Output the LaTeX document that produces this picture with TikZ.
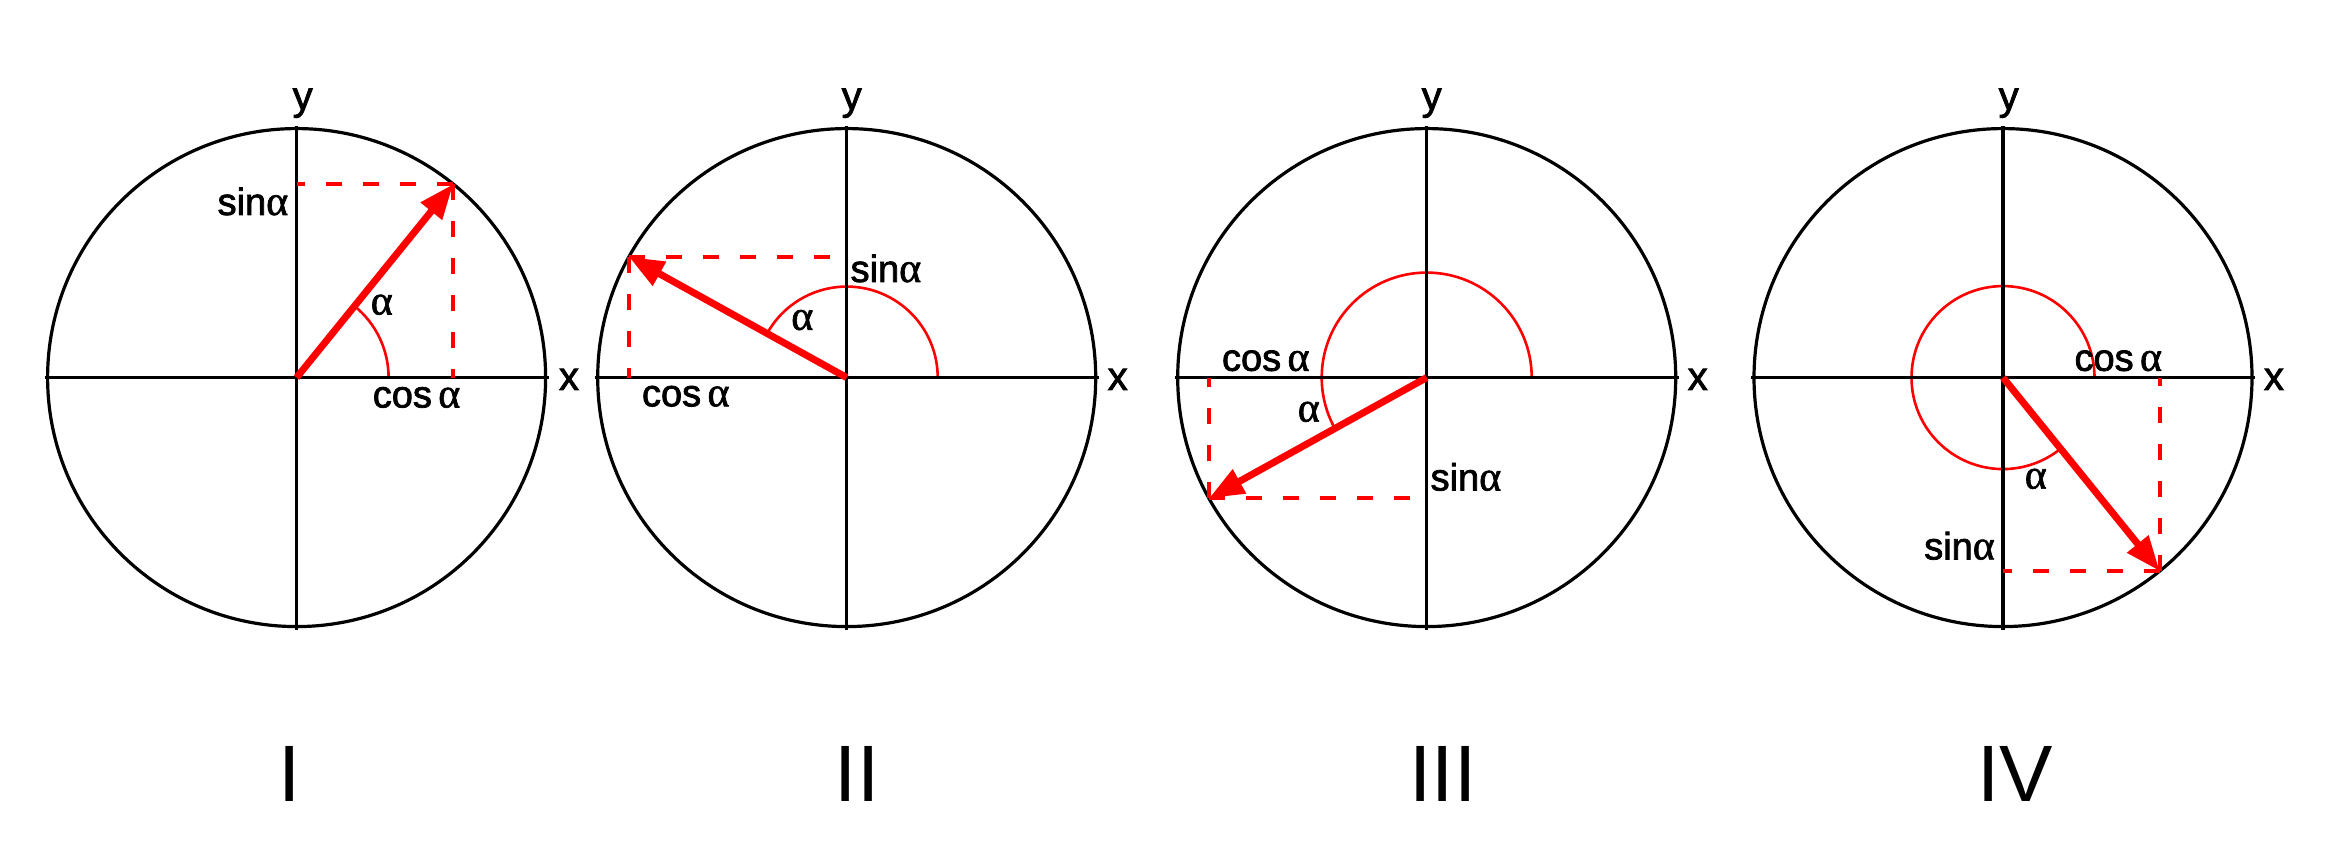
\documentclass[tikz,border=0pt]{standalone}
\usepackage{fontspec}
\setmainfont{Liberation Sans}
\newfontfamily\lblfont[FakeBold=2]{Liberation Sans}
\newfontfamily\grkfont[FakeBold=1.5]{Liberation Serif}
\newcommand{\alp}{{\grkfont\fontsize{10.5}{12}\selectfont α}}
\usetikzlibrary{arrows.meta,calc}
\begin{document}
\begin{tikzpicture}[x=0.25pt,y=0.25pt,
  axisline/.style={black,line width=0.8pt},
  ring/.style={black,line width=0.8pt},
  vec/.style={red,line width=1.75pt,-{Triangle[length=8.75pt,width=6.5pt]}},
  proj/.style={red,line width=1pt,dash pattern=on 4pt off 5.25pt},
  angarc/.style={red,line width=0.65pt},
  lbl/.style={inner sep=0pt,font=\lblfont\fontsize{9.5}{11}\selectfont},
  axlbl/.style={inner sep=0pt,anchor=base,font=\lblfont\fontsize{10}{12}\selectfont},
  num/.style={inner sep=0pt,anchor=base,font=\fontsize{20}{24}\selectfont}]
\useasboundingbox (0,0) rectangle (2343,853);

% ---------- Panel I ----------
\coordinate (O1) at (296.6,475.4);
\coordinate (P1) at ($(O1)+(51:249)$);
\coordinate (W1) at ($(O1)+(-252,0)$);
\coordinate (E1) at ($(O1)+(252,0)$);
\coordinate (S1) at ($(O1)+(0,-252)$);
\coordinate (N1) at ($(O1)+(0,252)$);
\coordinate (A1) at ($(O1)+(92,0)$);
\draw[angarc] (A1) arc[start angle=0,end angle=51,radius=92];
\draw[ring] (O1) circle[radius=249];
\draw[axisline] (W1) -- (E1);
\draw[axisline] (S1) -- (N1);
\draw[proj] (P1) -- (O1 |- P1);
\draw[proj] (P1) -- (P1 |- O1);
\draw[vec] (O1) -- (P1);
\node[axlbl] (y1) at (302.7,743.4) {y};
\node[axlbl] (x1) at (569,463) {x};
\node[lbl,anchor=base east] (s1) at (289,638) {sin\alp};
\node[lbl,anchor=base west] (a1) at (370,538.5) {\alp};
\node[lbl,anchor=base west] (c1) at (372,445.5) {cos\,\alp};
\node[num] (n1) at (290,51) {I};

% ---------- Panel II ----------
\coordinate (O2) at (846.7,475.4);
\coordinate (P2) at ($(O2)+(151:249)$);
\coordinate (W2) at ($(O2)+(-252,0)$);
\coordinate (E2) at ($(O2)+(252,0)$);
\coordinate (S2) at ($(O2)+(0,-252)$);
\coordinate (N2) at ($(O2)+(0,252)$);
\coordinate (A2) at ($(O2)+(91,0)$);
\draw[angarc] (A2) arc[start angle=0,end angle=151,radius=91];
\draw[ring] (O2) circle[radius=249];
\draw[axisline] (W2) -- (E2);
\draw[axisline] (S2) -- (N2);
\draw[proj] (P2) -- (O2 |- P2);
\draw[proj] (P2) -- (P2 |- O2);
\draw[vec] (O2) -- (P2);
\node[axlbl] (y2) at (851.7,743.4) {y};
\node[axlbl] (x2) at (1117.7,463) {x};
\node[lbl,anchor=base west] (s2) at (849.8,571) {sin\alp};
\node[lbl,anchor=base west] (a2) at (790.5,523.2) {\alp};
\node[lbl,anchor=base west] (c2) at (641.2,446.7) {cos\,\alp};
\node[num] (n2) at (857,51) {II};

% ---------- Panel III ----------
\coordinate (O3) at (1426.7,475.4);
\coordinate (P3) at ($(O3)+(209:249)$);
\coordinate (W3) at ($(O3)+(-252,0)$);
\coordinate (E3) at ($(O3)+(252,0)$);
\coordinate (S3) at ($(O3)+(0,-252)$);
\coordinate (N3) at ($(O3)+(0,252)$);
\coordinate (A3) at ($(O3)+(105,0)$);
\draw[angarc] (A3) arc[start angle=0,end angle=209,radius=105];
\draw[ring] (O3) circle[radius=249];
\draw[axisline] (W3) -- (E3);
\draw[axisline] (S3) -- (N3);
\draw[proj] (P3) -- (O3 |- P3);
\draw[proj] (P3) -- (P3 |- O3);
\draw[vec] (O3) -- (P3);
\node[axlbl] (y3) at (1431.7,743.4) {y};
\node[axlbl] (x3) at (1697.7,463) {x};
\node[lbl,anchor=base west] (c3) at (1221.2,482.2) {cos\,\alp};
\node[lbl,anchor=base west] (a3) at (1297,431.4) {\alp};
\node[lbl,anchor=base west] (s3) at (1429.8,362.5) {sin\alp};
\node[num] (n3) at (1443,51) {III};

% ---------- Panel IV ----------
\coordinate (O4) at (2003,475.4);
\coordinate (P4) at ($(O4)+(309:249)$);
\coordinate (W4) at ($(O4)+(-252,0)$);
\coordinate (E4) at ($(O4)+(252,0)$);
\coordinate (S4) at ($(O4)+(0,-252)$);
\coordinate (N4) at ($(O4)+(0,252)$);
\coordinate (A4) at ($(O4)+(91.5,0)$);
\draw[angarc] (A4) arc[start angle=0,end angle=309,radius=91.5];
\draw[ring] (O4) circle[radius=249];
\draw[axisline] (W4) -- (E4);
\draw[axisline] (S4) -- (N4);
\draw[proj] (P4) -- (O4 |- P4);
\draw[proj] (P4) -- (P4 |- O4);
\draw[vec] (O4) -- (P4);
\node[axlbl] (y4) at (2008.7,743.4) {y};
\node[axlbl] (x4) at (2273.9,463) {x};
\node[lbl,anchor=base west] (c4) at (2073.7,482.2) {cos\,\alp};
\node[lbl,anchor=base west] (a4) at (2024,364.4) {\alp};
\node[lbl,anchor=base east] (s4) at (1995.6,293.6) {sin\alp};
\node[num] (n4) at (2015,51) {IV};
\end{tikzpicture}
\end{document}
